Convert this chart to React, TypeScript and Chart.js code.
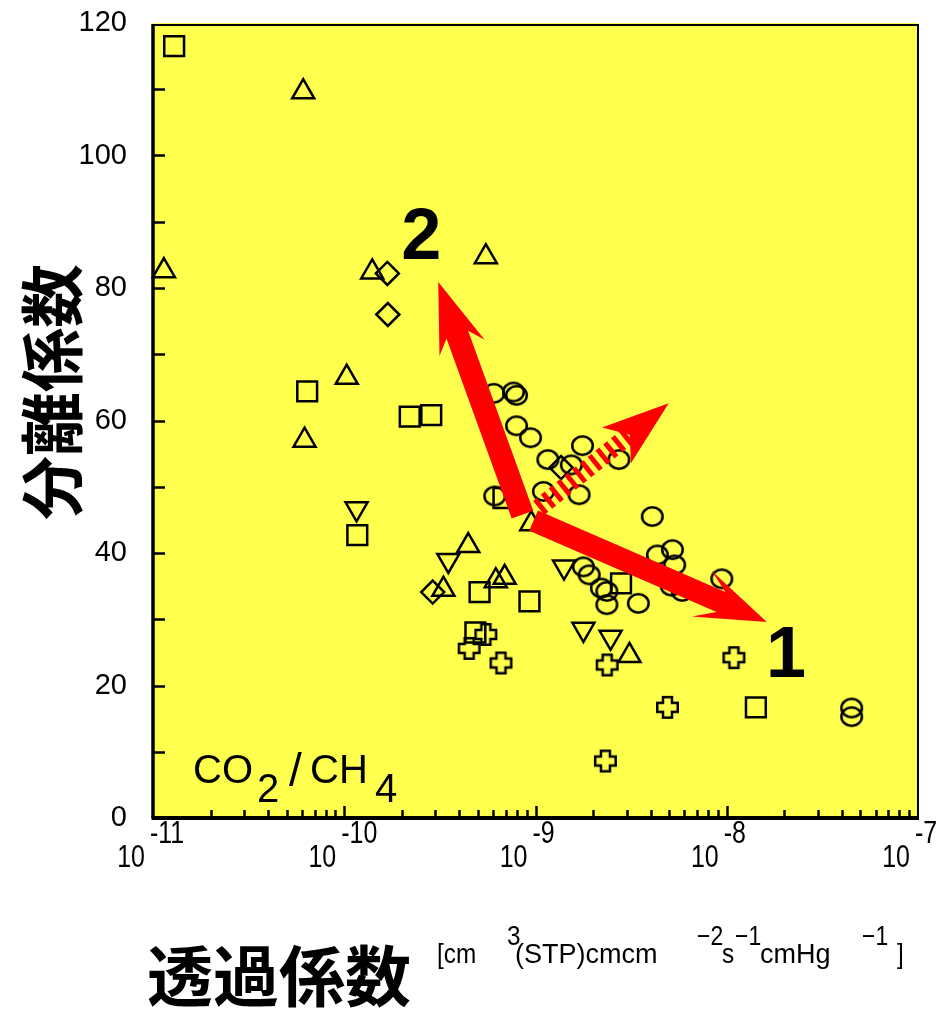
import React, { useEffect, useRef } from 'react';
import { Chart, registerables } from 'chart.js';

Chart.register(...registerables);

// ---------------- data ----------------
const squareX = [1.29e-11, 6.4e-11, 2.2e-10, 2.85e-10, 1.17e-10, 5.1e-10, 9.3e-10, 4.85e-10, 2.8e-9, 1.42e-8, 6.8e-10];
const squareY = [116.5, 64.4, 60.6, 60.8, 42.7, 34.1, 32.7, 28.0, 35.4, 16.7, 48.3];

const triangleX = [6.1e-11, 1.14e-11, 1.4e-10, 5.5e-10, 1.03e-10, 6.2e-11, 4.45e-10, 3.3e-10, 6.2e-10, 6.9e-10, 3.1e-9, 9.5e-10];
const triangleY = [109.6, 82.6, 82.4, 84.7, 66.5, 57.0, 41.1, 34.5, 35.8, 36.3, 24.5, 44.4];

const invTriangleX = [1.16e-10, 3.5e-10, 1.41e-9, 1.78e-9, 2.47e-9];
const invTriangleY = [46.7, 38.9, 37.9, 28.5, 27.3];

const diamondX = [1.68e-10, 1.69e-10, 2.9e-10, 1.36e-9];
const diamondY = [82.2, 76.0, 34.1, 52.9];

const crossX = [5.5e-10, 4.5e-10, 6.6e-10, 2.37e-9, 1.09e-8, 4.9e-9, 2.32e-9];
const crossY = [27.7, 25.6, 23.4, 23.1, 24.2, 16.7, 8.6];

const circleX = [
  6.05e-10, 7.67e-10, 7.96e-10, 7.96e-10, 9.42e-10, 1.16e-9, 1.76e-9, 1.54e-9, 2.73e-9,
  1.1e-9, 1.69e-9, 6.12e-10, 4.08e-9, 4.34e-9, 5.2e-9, 5.34e-9, 5.13e-9, 5.85e-9,
  9.42e-9, 1.78e-9, 1.91e-9, 2.21e-9, 2.36e-9, 2.36e-9, 3.45e-9, 4.5e-8, 4.5e-8,
];
const circleY = [
  64.1, 64.3, 63.8, 59.2, 57.4, 54.1, 56.2, 53.3, 54.1,
  49.3, 48.8, 48.6, 45.5, 39.7, 40.5, 38.2, 35.0, 34.2,
  36.1, 37.9, 36.7, 34.7, 34.2, 32.2, 32.4, 16.6, 15.3,
];

// annotation arrows: [x, y] in data units
const arrowUpFrom = [8.55e-10, 45.8];
const arrowUpTo = [3.1e-10, 80.9];
const arrowRightFrom = [9.77e-10, 44.9];
const arrowRightTo = [1.62e-8, 29.6];
const arrowDiagFrom = [1.04e-9, 46.8];
const arrowDiagTo = [4.97e-9, 62.6];

const label1At = [2.04e-8, 24.3];
const label2At = [2.53e-10, 87.4];
const gasLabelAt = [1.62e-11, 5.3];

const decadeExponents = [-11, -10, -9, -8, -7];
const yMin = 0;
const yMax = 120;
const yLabelStep = 20;
const yTickStep = 10;

const yTitle = '分離係数';
const xTitle = '透過係数';

const YELLOW = 'rgb(255,255,77)';
const RED = '#ff0000';

// ---------------- helpers ----------------
function makeEllipse(w: number, h: number, lw: number) {
  const c = document.createElement('canvas');
  c.width = w + 4;
  c.height = h + 4;
  const ctx = c.getContext('2d')!;
  ctx.lineWidth = lw;
  ctx.strokeStyle = '#000';
  ctx.beginPath();
  ctx.ellipse(c.width / 2, c.height / 2, w / 2 - lw / 2, h / 2 - lw / 2, 0, 0, Math.PI * 2);
  ctx.stroke();
  return c;
}

function makePlus(s: number, arm: number, lw: number) {
  const c = document.createElement('canvas');
  c.width = s + 4;
  c.height = s + 4;
  const ctx = c.getContext('2d')!;
  const cx = c.width / 2;
  const cy = c.height / 2;
  const h = s / 2 - lw / 2;
  const a = arm / 2;
  ctx.beginPath();
  ctx.moveTo(cx - a, cy - h);
  ctx.lineTo(cx + a, cy - h);
  ctx.lineTo(cx + a, cy - a);
  ctx.lineTo(cx + h, cy - a);
  ctx.lineTo(cx + h, cy + a);
  ctx.lineTo(cx + a, cy + a);
  ctx.lineTo(cx + a, cy + h);
  ctx.lineTo(cx - a, cy + h);
  ctx.lineTo(cx - a, cy + a);
  ctx.lineTo(cx - h, cy + a);
  ctx.lineTo(cx - h, cy - a);
  ctx.lineTo(cx - a, cy - a);
  ctx.closePath();
  ctx.fillStyle = YELLOW;
  ctx.fill();
  ctx.lineWidth = lw;
  ctx.strokeStyle = '#000';
  ctx.stroke();
  return c;
}

function pts(xs: number[], ys: number[]) {
  return xs.map((x, i) => ({ x, y: ys[i] }));
}

function drawArrow(
  ctx: CanvasRenderingContext2D,
  x0: number, y0: number, x1: number, y1: number,
  shaftW: number, headLen: number, headHalf: number, notch: number, striped: boolean,
) {
  const dx = x1 - x0;
  const dy = y1 - y0;
  const L = Math.hypot(dx, dy);
  const ux = dx / L;
  const uy = dy / L;
  const px = -uy;
  const py = ux;
  const P = (along: number, perp: number): [number, number] => [
    x1 + ux * along + px * perp,
    y1 + uy * along + py * perp,
  ];
  ctx.save();
  ctx.fillStyle = RED;
  ctx.strokeStyle = RED;
  if (!striped) {
    const poly = [
      P(-L, shaftW / 2), P(-notch, shaftW / 2), P(-headLen, headHalf), P(0, 0),
      P(-headLen, -headHalf), P(-notch, -shaftW / 2), P(-L, -shaftW / 2),
    ];
    ctx.beginPath();
    poly.forEach((p, i) => (i ? ctx.lineTo(p[0], p[1]) : ctx.moveTo(p[0], p[1])));
    ctx.closePath();
    ctx.fill();
  } else {
    ctx.lineWidth = shaftW;
    ctx.lineCap = 'butt';
    ctx.setLineDash([5, 5]);
    const s = P(-L, 0);
    const e = P(-notch + 4, 0);
    ctx.beginPath();
    ctx.moveTo(s[0], s[1]);
    ctx.lineTo(e[0], e[1]);
    ctx.stroke();
    ctx.setLineDash([]);
    const poly = [P(0, 0), P(-headLen, headHalf), P(-notch, 0), P(-headLen, -headHalf)];
    ctx.beginPath();
    poly.forEach((p, i) => (i ? ctx.lineTo(p[0], p[1]) : ctx.moveTo(p[0], p[1])));
    ctx.closePath();
    ctx.fill();
  }
  ctx.restore();
}

function scaledText(ctx: CanvasRenderingContext2D, text: string, x: number, y: number, sx: number, align: CanvasTextAlign) {
  ctx.save();
  ctx.translate(x, y);
  ctx.scale(sx, 1);
  ctx.textAlign = align;
  ctx.fillText(text, 0, 0);
  ctx.restore();
}

const decorPlugin = {
  id: 'decor',
  beforeDraw(chart: any) {
    const { ctx, chartArea: a } = chart;
    ctx.save();
    ctx.fillStyle = '#ffffff';
    ctx.fillRect(0, 0, chart.width, chart.height);
    ctx.fillStyle = YELLOW;
    ctx.fillRect(a.left, a.top, a.right - a.left, a.bottom - a.top);
    ctx.restore();
  },
  afterDatasetsDraw(chart: any) {
    const { ctx } = chart;
    const xs = chart.scales.x;
    const ys = chart.scales.y;
    const px = (v: number[]) => [xs.getPixelForValue(v[0]), ys.getPixelForValue(v[1])];

    const u0 = px(arrowUpFrom), u1 = px(arrowUpTo);
    const r0 = px(arrowRightFrom), r1 = px(arrowRightTo);
    const d0 = px(arrowDiagFrom), d1 = px(arrowDiagTo);
    drawArrow(ctx, d0[0], d0[1], d1[0], d1[1], 18, 67, 23, 50, true);
    drawArrow(ctx, u0[0], u0[1], u1[0], u1[1], 23, 70, 24, 56, false);
    drawArrow(ctx, r0[0], r0[1], r1[0], r1[1], 22, 71, 25, 50, false);

    ctx.save();
    ctx.fillStyle = '#000';
    ctx.textBaseline = 'middle';
    ctx.textAlign = 'center';
    ctx.font = 'bold 72px "Liberation Sans", Arial, sans-serif';
    const l1 = px(label1At);
    const l2 = px(label2At);
    ctx.fillText('1', l1[0], l1[1]);
    ctx.fillText('2', l2[0], l2[1]);

    // CO2/CH4
    const g = px(gasLabelAt);
    ctx.textBaseline = 'alphabetic';
    ctx.textAlign = 'left';
    ctx.font = '40px "Liberation Sans", Arial, sans-serif';
    ctx.fillText('CO', g[0], g[1]);
    ctx.fillText('2', g[0] + 64, g[1] + 19);
    ctx.fillText('CH', g[0] + 117, g[1]);
    ctx.fillText('4', g[0] + 182, g[1] + 19);
    ctx.font = '46px "Liberation Sans", Arial, sans-serif';
    ctx.fillText('/', g[0] + 96, g[1] + 3);
    ctx.restore();
  },
  afterDraw(chart: any) {
    const { ctx, chartArea: a } = chart;
    const xs = chart.scales.x;
    const ys = chart.scales.y;
    ctx.save();
    ctx.strokeStyle = '#000';
    ctx.fillStyle = '#000';

    // inner ticks y
    ctx.lineWidth = 2.5;
    for (let v = yMin + yTickStep; v < yMax; v += yTickStep) {
      const py = Math.round(ys.getPixelForValue(v)) + 0.5;
      ctx.beginPath();
      ctx.moveTo(a.left, py);
      ctx.lineTo(a.left + 12, py);
      ctx.stroke();
    }
    // inner ticks x (log)
    for (let k = 0; k < decadeExponents.length - 1; k++) {
      const base = Math.pow(10, decadeExponents[k]);
      for (let m = 1; m <= 9; m++) {
        const pxv = Math.round(xs.getPixelForValue(base * m)) + 0.5;
        if (m === 1 && k === 0) continue;
        const len = m === 1 ? 12 : 8;
        ctx.beginPath();
        ctx.moveTo(pxv, a.bottom);
        ctx.lineTo(pxv, a.bottom - len);
        ctx.stroke();
      }
    }

    // frame
    ctx.lineWidth = 2;
    ctx.beginPath();
    ctx.moveTo(a.left, a.top + 2);
    ctx.lineTo(a.right, a.top + 2);
    ctx.lineTo(a.right, a.bottom);
    ctx.stroke();
    ctx.lineWidth = 3.5;
    ctx.beginPath();
    ctx.moveTo(a.left, a.top + 1);
    ctx.lineTo(a.left, a.bottom);
    ctx.stroke();
    ctx.lineWidth = 4;
    ctx.beginPath();
    ctx.moveTo(a.left - 1.5, a.bottom);
    ctx.lineTo(a.right + 1, a.bottom);
    ctx.stroke();

    // x tick labels 10^n
    ctx.font = '32px "Liberation Sans", Arial, sans-serif';
    ctx.textBaseline = 'alphabetic';
    decadeExponents.forEach((e) => {
      const p = xs.getPixelForValue(Math.pow(10, e));
      scaledText(ctx, '10', p - 8, a.bottom + 49, 0.78, 'right');
      scaledText(ctx, '-' + String(-e), p - 3, a.bottom + 25, 0.78, 'left');
    });

    // y title
    ctx.save();
    ctx.translate(52, 392);
    ctx.rotate(-Math.PI / 2);
    ctx.font = 'bold 64px "Noto Sans CJK JP", sans-serif';
    ctx.textAlign = 'center';
    ctx.textBaseline = 'middle';
    ctx.fillText(yTitle, 0, 0);
    ctx.restore();

    // x title
    ctx.font = 'bold 66px "Noto Sans CJK JP", sans-serif';
    ctx.textAlign = 'center';
    ctx.textBaseline = 'middle';
    ctx.fillText(xTitle, 279, 976);

    // unit
    ctx.textAlign = 'left';
    ctx.textBaseline = 'alphabetic';
    ctx.font = '27px "Liberation Sans", Arial, sans-serif';
    const base = 963;
    const sup = 945;
    scaledText(ctx, '[cm', 437, base, 0.9, 'left');
    scaledText(ctx, '3', 507, sup, 0.9, 'left');
    scaledText(ctx, '(STP)cmcm', 515, base, 1.0, 'left');
    scaledText(ctx, '−2', 697, sup, 0.85, 'left');
    scaledText(ctx, 's', 722, base, 0.9, 'left');
    scaledText(ctx, '−1', 735, sup, 0.85, 'left');
    scaledText(ctx, 'cmHg', 760, base, 1.0, 'left');
    scaledText(ctx, '−1', 862, sup, 0.85, 'left');
    scaledText(ctx, ']', 897, base, 0.9, 'left');

    ctx.restore();
  },
};

export default function App() {
  const ref = useRef<HTMLCanvasElement | null>(null);

  useEffect(() => {
    if (!ref.current) return;
    const ellipse = makeEllipse(23, 21, 2.5);
    const plus = makePlus(23, 9, 2.5);
    const common = {
      showLine: false,
      borderColor: '#000',
      backgroundColor: 'rgba(0,0,0,0)',
      pointBorderWidth: 2.5,
      pointBorderColor: '#000',
      pointBackgroundColor: 'rgba(0,0,0,0)',
      clip: false,
    };
    const chart = new Chart(ref.current, {
      type: 'scatter',
      data: {
        datasets: [
          { ...common, label: 'square', data: pts(squareX, squareY), pointStyle: 'rect', pointRadius: 14 },
          { ...common, label: 'triangle', data: pts(triangleX, triangleY), pointStyle: 'triangle', pointRadius: 12.7 },
          { ...common, label: 'invTriangle', data: pts(invTriangleX, invTriangleY), pointStyle: 'triangle', pointRotation: 180, pointRadius: 12.7 },
          { ...common, label: 'diamond', data: pts(diamondX, diamondY), pointStyle: 'rectRot', pointRadius: 11.5 },
          { ...common, label: 'circle', data: pts(circleX, circleY), pointStyle: ellipse as any, pointRadius: 11 },
          { ...common, label: 'cross', data: pts(crossX, crossY), pointStyle: plus as any, pointRadius: 11 },
        ] as any,
      },
      options: {
        responsive: false,
        animation: false,
        events: [],
        layout: { padding: { left: 0, right: 22, top: 23, bottom: 0 } },
        plugins: { legend: { display: false }, tooltip: { enabled: false } },
        scales: {
          x: {
            type: 'logarithmic',
            min: 1e-11,
            max: 1e-7,
            position: 'bottom',
            grid: { display: false, drawTicks: false },
            border: { display: false },
            ticks: { display: false },
            afterFit: (s: any) => {
              s.height = 1010 - 818;
              s.paddingLeft = 0;
              s.paddingRight = 0;
            },
          },
          y: {
            type: 'linear',
            min: yMin,
            max: yMax,
            grid: { display: false, drawTicks: false },
            border: { display: false },
            ticks: {
              stepSize: yLabelStep,
              color: '#000',
              padding: 26,
              font: { family: '"Liberation Sans", Arial, sans-serif', size: 29 },
            },
            afterFit: (s: any) => {
              s.width = 153;
              s.paddingTop = 0;
              s.paddingBottom = 0;
            },
          },
        },
      } as any,
      plugins: [decorPlugin],
    });
    return () => chart.destroy();
  }, []);

  return (
    <div style={{ position: 'fixed', left: 0, top: 0, width: 940, height: 1010, background: '#fff' }}>
      <canvas ref={ref} width={940} height={1010} style={{ display: 'block' }} />
    </div>
  );
}
